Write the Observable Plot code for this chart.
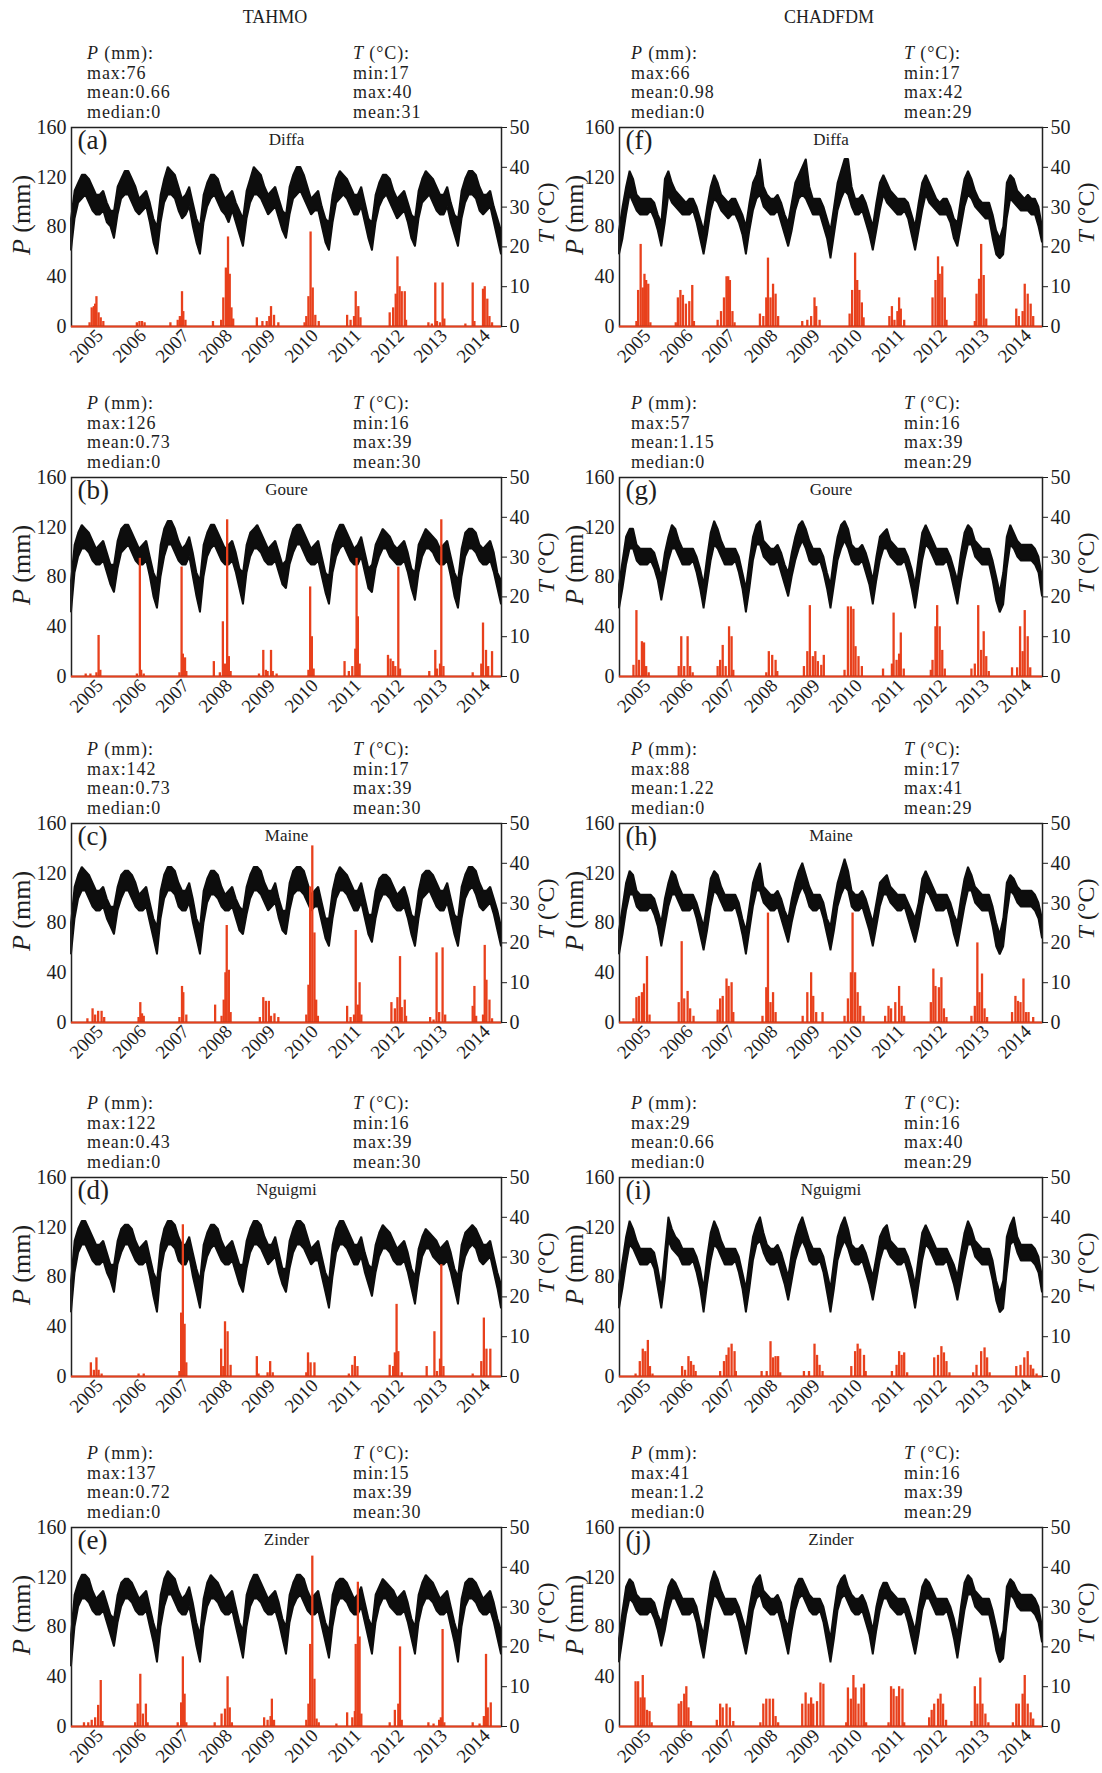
<!DOCTYPE html>
<html><head><meta charset="utf-8">
<script src="https://cdn.jsdelivr.net/npm/d3@7"></script>
<script src="https://cdn.jsdelivr.net/npm/@observablehq/plot@0.6"></script>
<style>
body{margin:0;background:#fff;font-family:"Liberation Serif","DejaVu Serif",serif;color:#1e1e1e;}
#root{position:relative;width:1102px;height:1773px;overflow:hidden;}
.abs{position:absolute;white-space:nowrap;}
.stats{font-size:18px;line-height:19.6px;letter-spacing:0.9px;}
.ttl{font-size:18px;transform:translateX(-50%);}
.ylab{font-size:26px;transform:translate(-50%,-50%) rotate(-90deg);}
.ylab.t{font-size:24px;}
</style></head><body><div id="root"></div>
<script>
// ---------------- data ----------------
const years = [2005,2006,2007,2008,2009,2010,2011,2012,2013,2014];
const stations = ["Diffa","Goure","Maine","Nguigmi","Zinder"];
const letters = ["a","b","c","d","e","f","g","h","i","j"];
const columns = ["TAHMO","CHADFDM"];
const pMax = [76,126,142,122,137,66,57,88,29,41];
const pMean = ["0.66","0.73","0.73","0.43","0.72","0.98","1.15","1.22","0.66","1.2"];
const pMedian = [0,0,0,0,0,0,0,0,0,0];
const tMin = [17,16,17,16,15,17,16,17,16,16];
const tMaxS = [40,39,39,39,39,42,39,41,40,39];
const tMeanS = [31,30,30,30,30,29,29,29,29,29];

// monthly envelope of daily temperature (°C), first of each month 2005-01 .. 2014-12, plus 2014-12-31
const tLoA = [19,27,31,32,33,31,29,28,28,29,26,25, 22,28,32,33,33,31,29,28,29,30,26,21, 18,26,31,33,33,32,29,27,28,30,25,21, 18,26,30,32,33,31,29,28,26,29,26,23, 20,27,31,33,33,32,30,28,29,30,27,24, 22,28,32,33,34,32,30,28,29,29,25,21, 19,26,31,32,33,32,30,28,28,30,26,22, 19,26,30,32,33,31,29,27,28,29,26,22, 20,27,31,32,33,31,29,28,28,30,26,23, 20,27,31,33,33,32,29,28,29,30,26,22, 18];
const tHiA = [27,34,36,38,38,37,35,33,33,34,31,29, 29,35,37,39,39,37,35,32,33,34,31,27, 25,33,37,40,39,38,35,32,33,35,31,27, 25,33,36,38,38,37,34,32,33,34,31,29, 27,34,37,40,39,38,35,33,34,35,32,29, 28,35,38,40,40,38,35,32,33,34,30,27, 26,33,37,39,38,37,35,33,33,35,31,27, 26,33,36,38,38,37,34,32,33,34,31,28, 27,34,37,39,38,37,35,33,33,35,31,28, 27,34,37,39,39,38,35,33,33,34,30,27, 24];

const tLoB = [16,26,30,32,32,31,29,28,28,29,26,23, 21,27,31,32,33,31,29,28,28,29,25,20, 17,25,30,33,33,31,29,28,28,30,25,20, 16,25,30,32,33,31,29,28,28,29,26,22, 18,26,30,32,32,31,29,28,28,29,26,23, 22,28,31,33,33,31,29,28,28,29,25,21, 18,26,30,32,33,31,29,28,28,30,26,22, 21,27,30,32,32,30,29,28,28,29,26,22, 19,26,30,32,32,31,29,28,28,29,25,20, 17,25,30,32,32,31,29,28,28,29,26,22, 18];
const tHiB = [24,33,36,38,37,36,34,32,33,34,31,28, 28,34,37,38,38,36,34,32,33,34,30,26, 24,33,37,39,39,37,34,32,33,35,31,26, 24,33,36,38,38,36,34,32,33,34,31,27, 26,33,36,37,38,36,34,32,33,34,31,28, 29,34,37,38,38,36,34,32,33,34,30,26, 25,33,36,38,38,36,34,32,33,35,31,27, 28,33,35,37,36,35,33,32,33,34,31,27, 26,33,35,37,36,35,34,32,33,34,30,26, 24,32,36,37,37,36,33,32,33,34,31,26, 24];

const tLoC = [17,26,31,33,33,31,29,28,28,29,26,24, 22,28,31,33,33,31,29,28,28,29,25,21, 17,26,31,33,33,32,29,28,28,30,25,21, 17,25,30,32,32,31,29,28,28,29,26,23, 22,27,31,33,33,32,30,28,29,30,26,23, 22,28,32,33,33,32,30,28,29,29,25,21, 19,26,31,33,33,32,30,28,28,30,26,22, 20,26,30,32,32,31,29,28,28,29,26,22, 19,26,31,32,33,31,29,28,28,30,26,22, 19,26,31,33,34,32,29,28,29,30,27,23, 19];
const tHiC = [25,34,37,39,38,37,35,33,33,34,31,29, 29,34,37,38,38,37,35,32,33,34,30,26, 24,33,37,39,39,38,35,33,33,35,31,26, 24,33,36,38,38,37,34,32,33,34,31,29, 28,34,37,39,39,38,35,33,33,35,31,28, 28,35,38,39,39,38,35,32,33,34,30,26, 26,33,37,39,38,37,35,33,33,35,31,27, 27,33,36,37,37,36,34,32,33,34,31,27, 26,33,37,38,38,37,35,33,33,35,31,27, 26,34,37,39,39,38,35,33,33,34,31,28, 24];

const tLoD = [16,26,31,33,33,31,29,28,28,29,26,24, 21,28,31,33,33,31,29,28,28,29,25,20, 16,26,31,33,33,32,29,28,28,30,25,21, 17,26,30,32,33,31,29,28,28,29,26,23, 21,27,31,33,33,32,30,28,29,30,26,23, 21,27,31,33,33,32,30,28,29,29,25,21, 17,25,31,33,33,32,30,28,28,30,26,23, 20,26,30,32,32,31,29,28,28,29,26,22, 18,25,30,32,32,30,29,28,28,29,26,22, 18,26,30,32,33,32,29,28,29,30,26,22, 17];
const tHiD = [24,34,37,39,39,37,35,33,33,34,31,28, 28,34,37,38,38,37,34,32,33,34,30,26, 24,33,37,39,39,38,35,33,33,35,31,27, 24,33,36,38,38,37,34,32,33,34,31,28, 28,34,37,39,39,38,35,33,33,35,31,27, 27,34,37,39,39,38,35,32,33,34,30,26, 24,33,37,39,39,37,35,33,33,35,31,28, 27,33,36,38,37,36,34,32,33,34,31,27, 25,32,35,37,36,35,34,32,33,34,31,27, 25,33,36,37,38,37,35,33,33,34,30,26, 23];

const tLoE = [15,25,30,32,32,31,29,28,28,29,26,23, 20,26,30,32,32,31,29,28,28,29,25,21, 16,25,30,33,33,31,29,28,28,30,25,20, 16,25,30,32,32,31,29,28,28,29,25,21, 17,25,30,32,32,31,29,28,28,29,26,22, 18,26,30,32,33,31,29,28,28,29,25,21, 17,25,30,32,32,31,29,28,28,30,26,22, 18,26,30,32,32,30,29,28,28,29,26,22, 18,26,30,32,32,31,29,28,28,29,25,21, 16,25,30,32,32,31,29,28,28,29,26,22, 18];
const tHiE = [23,33,36,38,38,37,34,32,33,34,31,28, 27,33,36,37,37,36,34,32,33,34,30,26, 23,33,37,39,38,37,34,32,33,35,31,26, 23,32,36,38,37,36,34,32,33,34,30,26, 24,33,36,38,38,36,34,32,33,34,31,27, 25,33,36,38,38,37,34,32,33,34,30,26, 24,33,36,37,37,36,34,32,33,35,31,27, 25,33,35,37,36,35,34,32,33,34,31,27, 25,33,36,38,37,36,34,32,33,34,30,26, 23,32,36,37,37,36,34,32,33,34,31,27, 24];

const tLoF = [18,22,28,33,31,29,28,28,28,29,27,24, 20,26,33,31,30,29,28,28,28,29,26,22, 18,23,29,32,31,29,28,27,28,28,26,23, 18,24,29,32,33,30,29,28,28,29,26,23, 20,24,29,32,33,32,30,28,28,28,25,22, 17,23,29,32,34,33,30,28,28,29,26,23, 19,24,29,33,31,30,29,28,28,29,27,23, 19,24,29,33,31,30,29,28,28,28,26,22, 20,25,30,33,32,30,29,28,27,27,22,18, 17,18,27,32,31,30,29,29,29,28,28,25, 21];
const tHiF = [24,30,35,39,37,33,32,32,32,32,31,28, 26,37,39,36,34,33,32,31,32,32,30,27, 24,30,35,38,36,33,32,31,32,32,30,28, 25,31,36,38,42,35,33,32,32,33,31,28, 26,31,36,38,40,42,35,32,32,32,30,27, 24,30,36,39,42,42,35,32,32,33,31,28, 25,31,36,38,36,34,33,32,32,32,31,28, 25,31,36,38,36,34,32,31,32,32,30,27, 26,32,37,39,37,34,32,31,31,31,28,24, 22,25,36,38,37,34,33,32,33,32,32,30, 25];

const tLoG = [17,22,28,32,32,29,28,28,28,29,27,24, 19,24,29,32,32,30,28,28,28,29,26,22, 17,23,29,33,32,30,28,28,28,29,26,22, 16,22,29,33,33,30,29,28,28,29,26,23, 20,25,29,32,34,32,29,28,28,29,26,22, 17,23,29,32,34,32,29,28,28,29,26,23, 18,24,29,32,32,30,29,28,28,29,26,22, 17,23,29,33,32,30,28,28,28,29,26,22, 18,24,29,33,33,30,29,28,28,28,24,19, 16,18,27,33,32,30,29,29,29,29,28,26, 20];
const tHiG = [23,29,35,37,37,33,32,32,32,32,31,28, 25,31,35,38,37,34,32,32,32,32,30,27, 23,30,36,39,37,34,32,32,32,32,30,26, 22,29,35,38,39,34,33,32,32,33,31,28, 26,31,35,38,39,37,34,32,32,32,30,26, 23,30,35,38,39,37,33,32,32,33,31,28, 24,30,35,36,37,34,33,32,32,32,30,27, 23,30,36,38,36,34,32,32,32,32,30,27, 24,31,36,38,37,34,33,32,32,32,29,25, 21,26,35,38,36,34,33,33,33,33,32,30, 25];

const tLoH = [17,22,28,32,32,29,28,28,28,29,27,24, 19,24,29,32,32,30,28,28,28,29,26,22, 18,23,29,33,32,30,28,28,28,29,26,22, 17,23,29,33,33,30,29,28,28,29,26,23, 20,25,29,32,34,32,29,28,28,29,26,22, 18,23,29,32,34,33,29,28,28,29,26,23, 19,24,29,32,32,30,29,28,28,29,26,23, 20,24,29,33,32,30,28,28,28,29,26,22, 19,24,29,33,33,30,29,28,28,28,24,19, 17,19,27,33,32,30,29,29,29,29,28,26, 21];
const tHiH = [23,29,35,38,37,33,32,32,32,32,31,28, 25,31,35,38,37,34,32,32,32,32,30,27, 24,30,36,38,37,34,32,32,32,32,30,26, 23,29,35,38,40,34,33,32,32,33,31,28, 26,31,35,38,40,37,34,32,32,32,30,26, 24,30,35,38,41,38,33,32,32,33,31,28, 25,30,35,36,37,34,33,32,32,32,30,28, 26,30,36,38,36,34,32,32,32,32,30,27, 25,31,36,39,37,34,33,32,32,32,29,25, 22,26,35,37,36,34,33,33,33,33,32,30, 26];

const tLoI = [17,22,28,33,32,30,28,28,28,29,27,22, 17,24,34,32,31,30,28,28,28,29,26,22, 16,23,29,33,32,30,28,28,28,29,26,22, 16,22,29,33,34,31,29,28,28,29,26,23, 19,24,29,32,34,32,29,28,28,29,26,21, 16,22,29,32,34,32,29,28,28,29,26,23, 19,24,29,32,32,30,29,28,28,29,26,22, 17,23,29,33,32,30,28,28,28,29,26,23, 19,24,29,33,33,30,29,28,28,28,24,19, 16,17,26,33,34,31,29,29,29,29,28,26, 21];
const tHiI = [23,29,35,39,37,34,32,32,32,32,31,27, 22,31,40,37,35,34,32,32,32,32,30,27, 22,30,36,39,37,34,32,32,32,32,30,26, 22,29,35,38,40,36,33,32,32,33,31,28, 25,31,35,38,40,37,34,32,32,32,30,26, 22,29,35,38,40,37,33,32,32,33,31,28, 25,30,35,37,38,34,33,32,32,32,30,27, 23,30,36,38,36,34,32,32,32,32,30,28, 25,31,36,39,37,34,33,32,32,32,29,24, 21,24,35,38,40,35,33,33,33,33,32,30, 25];

const tLoJ = [16,22,28,32,31,29,28,28,28,29,27,24, 20,24,29,32,32,30,28,28,28,29,26,21, 17,23,29,33,32,30,28,28,28,29,26,22, 18,23,29,32,33,30,29,28,28,29,26,22, 18,24,29,32,33,31,29,28,28,29,26,21, 16,22,29,32,33,31,29,28,28,29,26,23, 18,24,29,32,32,30,29,28,28,29,26,22, 18,23,29,32,32,30,28,28,28,29,26,22, 17,23,29,33,33,30,29,28,28,28,24,19, 16,17,26,33,32,30,29,29,29,29,28,26, 21];
const tHiJ = [22,29,35,37,36,33,32,32,32,32,31,28, 26,31,35,37,36,34,32,32,32,32,30,26, 23,30,36,39,37,34,32,32,32,32,30,27, 24,30,35,37,38,34,33,32,32,33,31,27, 25,31,35,37,37,35,33,32,32,32,30,26, 22,29,35,37,38,35,33,32,32,33,31,28, 24,30,34,36,36,34,33,32,32,32,30,27, 24,30,35,37,36,34,32,32,32,32,30,27, 23,30,36,38,37,34,33,32,32,32,29,25, 21,24,35,37,36,34,33,33,33,33,32,30, 25];

// daily precipitation events [decimal year, mm]
const rainA = [[2005.42,3],[2005.47,15],[2005.52,16],[2005.55,18],[2005.58,24],[2005.63,11],[2005.68,7],[2005.74,4],
[2006.52,3],[2006.58,4],[2006.64,4],[2006.70,3],
[2007.30,3],[2007.47,5],[2007.52,8],[2007.57,28],[2007.60,12],[2007.65,5],
[2008.29,4],[2008.48,5],[2008.53,23],[2008.59,47],[2008.64,72],[2008.68,42],[2008.72,15],[2008.76,6],
[2009.31,7],[2009.44,4],[2009.54,4],[2009.60,8],[2009.64,16],[2009.71,9],[2009.81,3],
[2010.42,3],[2010.46,8],[2010.51,24],[2010.56,76],[2010.61,31],[2010.67,9],[2010.75,4],
[2011.41,9],[2011.49,5],[2011.57,8],[2011.61,28],[2011.67,16],[2011.72,7],
[2012.40,11],[2012.48,15],[2012.54,26],[2012.58,56],[2012.63,32],[2012.68,28],[2012.75,28],[2012.78,5],
[2013.30,3],[2013.38,2],[2013.46,35],[2013.50,4],[2013.57,3],[2013.63,35],[2013.67,6],
[2014.16,2],[2014.33,35],[2014.37,4],[2014.57,30],[2014.61,32],[2014.67,22],[2014.72,8],[2014.78,3]];
const rainB = [[2005.33,2],[2005.44,2],[2005.58,3],[2005.63,33],[2005.67,5],
[2006.52,2],[2006.59,95],[2006.62,5],[2006.68,2],
[2007.51,3],[2007.56,88],[2007.59,18],[2007.64,15],[2007.67,4],
[2008.31,12],[2008.45,3],[2008.52,44],[2008.57,10],[2008.62,126],[2008.66,16],[2008.70,4],
[2009.36,2],[2009.46,21],[2009.52,5],[2009.56,4],[2009.64,21],[2009.68,4],[2009.77,2],
[2010.51,5],[2010.55,72],[2010.59,32],[2010.63,6],
[2011.35,12],[2011.45,4],[2011.53,8],[2011.60,22],[2011.63,95],[2011.66,48],[2011.70,10],
[2012.36,17],[2012.42,14],[2012.48,12],[2012.53,8],[2012.60,88],[2012.64,6],
[2013.32,4],[2013.46,21],[2013.50,6],[2013.57,10],[2013.60,126],[2013.65,8],
[2014.33,3],[2014.53,10],[2014.57,43],[2014.64,21],[2014.69,8],[2014.78,20]];
const rainC = [[2005.37,3],[2005.49,11],[2005.55,6],[2005.62,9],[2005.70,9],[2005.76,4],
[2006.56,4],[2006.60,16],[2006.64,7],[2006.68,5],
[2007.51,4],[2007.57,29],[2007.60,24],[2007.67,6],
[2008.34,14],[2008.49,5],[2008.54,18],[2008.58,40],[2008.61,78],[2008.66,42],[2008.70,8],
[2009.38,4],[2009.46,20],[2009.52,17],[2009.59,17],[2009.64,5],[2009.72,7],[2009.81,4],
[2010.46,6],[2010.51,30],[2010.55,109],[2010.60,142],[2010.65,72],[2010.69,18],[2010.73,5],
[2011.41,13],[2011.49,4],[2011.57,6],[2011.61,74],[2011.66,14],[2011.70,32],[2011.74,6],
[2012.44,16],[2012.52,11],[2012.58,20],[2012.64,53],[2012.68,12],[2012.75,18],[2012.78,5],
[2013.34,4],[2013.42,2],[2013.49,56],[2013.55,8],[2013.63,60],[2013.69,6],
[2014.33,13],[2014.37,29],[2014.41,5],[2014.57,6],[2014.61,62],[2014.65,34],[2014.72,18],[2014.78,3]];
const rainD = [[2005.45,11],[2005.52,5],[2005.58,15],[2005.63,5],[2005.70,2],
[2006.56,2],[2006.68,2],
[2007.51,4],[2007.55,51],[2007.59,122],[2007.63,42],[2007.67,11],
[2008.48,22],[2008.53,8],[2008.57,44],[2008.63,36],[2008.70,9],
[2009.31,16],[2009.35,2],[2009.56,3],[2009.62,12],[2009.68,3],
[2010.46,3],[2010.50,19],[2010.56,11],[2010.65,11],
[2011.45,2],[2011.53,9],[2011.59,16],[2011.65,8],
[2012.40,9],[2012.48,8],[2012.52,19],[2012.56,58],[2012.60,20],[2012.68,3],
[2013.26,8],[2013.44,36],[2013.50,4],[2013.57,14],[2013.60,90],[2013.65,8],
[2014.33,2],[2014.53,12],[2014.59,47],[2014.65,22],[2014.74,22]];
const rainE = [[2005.29,3],[2005.39,3],[2005.47,5],[2005.55,7],[2005.62,17],[2005.68,37],[2005.72,4],
[2006.48,3],[2006.54,18],[2006.60,42],[2006.66,10],[2006.73,18],[2006.77,3],
[2007.47,3],[2007.55,19],[2007.59,56],[2007.63,26],[2007.67,3],
[2008.33,3],[2008.49,10],[2008.57,14],[2008.63,40],[2008.68,15],[2008.73,3],
[2009.48,7],[2009.56,5],[2009.63,8],[2009.66,22],[2009.71,5],
[2010.46,5],[2010.51,18],[2010.55,66],[2010.60,137],[2010.65,38],[2010.70,6],[2010.75,3],
[2011.16,2],[2011.41,11],[2011.53,7],[2011.59,12],[2011.61,66],[2011.66,116],[2011.70,72],[2011.74,10],
[2012.40,3],[2012.52,13],[2012.60,18],[2012.64,64],[2012.68,5],
[2013.30,3],[2013.42,2],[2013.55,5],[2013.59,7],[2013.63,78],[2013.67,3],
[2014.33,3],[2014.49,2],[2014.59,8],[2014.64,58],[2014.68,15],[2014.75,19]];
const rainF = [[2005.40,4],[2005.44,29],[2005.50,66],[2005.55,31],[2005.59,42],[2005.63,37],[2005.68,34],[2005.73,3],
[2006.33,3],[2006.38,23],[2006.44,29],[2006.50,25],[2006.57,18],[2006.65,20],[2006.72,33],[2006.76,4],
[2007.32,5],[2007.40,12],[2007.47,23],[2007.53,40],[2007.57,40],[2007.61,37],[2007.67,12],[2007.72,3],
[2008.32,10],[2008.40,8],[2008.47,23],[2008.51,55],[2008.57,23],[2008.63,34],[2008.69,26],[2008.75,8],
[2009.32,4],[2009.44,5],[2009.53,8],[2009.61,23],[2009.65,16],[2009.73,5],
[2010.44,10],[2010.50,29],[2010.57,59],[2010.62,37],[2010.67,29],[2010.73,19],[2010.77,7],
[2011.38,8],[2011.44,16],[2011.50,5],[2011.57,12],[2011.61,23],[2011.65,14],[2011.73,5],
[2012.40,23],[2012.47,37],[2012.53,56],[2012.57,42],[2012.63,48],[2012.69,23],[2012.73,5],
[2013.40,4],[2013.44,26],[2013.50,38],[2013.55,66],[2013.61,41],[2013.67,6],
[2014.38,14],[2014.44,8],[2014.53,12],[2014.58,34],[2014.65,26],[2014.72,18],[2014.78,8]];
const rainG = [[2005.33,9],[2005.40,53],[2005.46,13],[2005.53,28],[2005.58,27],[2005.63,8],[2005.69,3],
[2006.40,8],[2006.46,32],[2006.53,8],[2006.61,32],[2006.67,8],[2006.73,3],
[2007.32,8],[2007.38,13],[2007.44,25],[2007.51,8],[2007.59,40],[2007.65,32],[2007.69,5],
[2008.47,3],[2008.53,20],[2008.61,17],[2008.69,13],[2008.73,4],
[2009.36,8],[2009.44,20],[2009.50,57],[2009.57,16],[2009.63,20],[2009.69,12],[2009.77,9],[2009.83,17],
[2010.32,5],[2010.40,56],[2010.47,56],[2010.53,54],[2010.58,24],[2010.65,16],[2010.73,8],
[2011.23,6],[2011.44,10],[2011.48,51],[2011.55,13],[2011.61,18],[2011.65,35],[2011.72,6],
[2012.36,5],[2012.40,13],[2012.47,40],[2012.51,57],[2012.57,40],[2012.63,21],[2012.69,6],
[2013.32,6],[2013.40,10],[2013.48,57],[2013.55,21],[2013.61,36],[2013.67,16],[2013.73,4],
[2014.28,7],[2014.40,7],[2014.47,40],[2014.53,20],[2014.58,53],[2014.65,32],[2014.71,7]];
const rainH = [[2005.33,3],[2005.40,20],[2005.46,21],[2005.53,24],[2005.58,31],[2005.65,53],[2005.71,6],
[2006.40,16],[2006.47,65],[2006.53,19],[2006.61,25],[2006.67,11],[2006.75,5],
[2007.32,10],[2007.38,19],[2007.44,21],[2007.53,35],[2007.58,29],[2007.65,32],[2007.69,8],
[2008.38,5],[2008.47,28],[2008.51,88],[2008.57,16],[2008.63,24],[2008.69,8],
[2009.33,5],[2009.44,24],[2009.53,40],[2009.58,21],[2009.65,8],[2009.80,8],
[2010.32,5],[2010.40,19],[2010.47,40],[2010.51,88],[2010.57,40],[2010.63,24],[2010.69,13],[2010.77,5],
[2011.28,5],[2011.36,13],[2011.42,11],[2011.52,16],[2011.61,29],[2011.67,13],[2011.73,5],
[2012.36,16],[2012.42,43],[2012.47,29],[2012.55,28],[2012.61,36],[2012.67,11],[2012.73,4],
[2013.32,5],[2013.40,13],[2013.46,64],[2013.51,24],[2013.57,39],[2013.63,11],[2013.69,4],
[2014.28,8],[2014.36,21],[2014.42,17],[2014.48,16],[2014.55,35],[2014.61,8],[2014.67,8],[2014.78,4]];
const rainI = [[2005.38,2],[2005.48,12],[2005.55,22],[2005.61,20],[2005.67,29],[2005.72,8],[2005.78,2],
[2006.48,8],[2006.55,5],[2006.63,16],[2006.69,12],[2006.75,9],[2006.80,4],
[2007.38,4],[2007.47,12],[2007.53,17],[2007.58,23],[2007.65,26],[2007.72,20],[2007.75,4],
[2008.36,4],[2008.48,4],[2008.57,28],[2008.63,15],[2008.69,16],[2008.75,16],[2008.80,3],
[2009.36,4],[2009.48,4],[2009.61,26],[2009.67,17],[2009.73,9],[2009.80,4],
[2010.48,8],[2010.57,20],[2010.63,26],[2010.69,22],[2010.78,17],[2010.82,4],
[2011.44,4],[2011.55,9],[2011.61,20],[2011.67,17],[2011.73,19],[2011.80,3],
[2012.44,15],[2012.53,17],[2012.61,24],[2012.67,19],[2012.73,12],[2012.80,3],
[2013.36,3],[2013.44,9],[2013.55,20],[2013.63,23],[2013.69,15],[2013.75,3],
[2014.38,8],[2014.48,9],[2014.57,15],[2014.65,20],[2014.72,9],[2014.78,6],[2014.86,2]];
const rainJ = [[2005.38,36],[2005.44,36],[2005.50,23],[2005.55,41],[2005.59,23],[2005.65,13],[2005.71,12],[2005.76,3],
[2006.40,18],[2006.46,20],[2006.53,26],[2006.58,32],[2006.63,15],[2006.69,4],
[2007.30,5],[2007.38,18],[2007.44,15],[2007.53,18],[2007.61,15],[2007.69,4],
[2008.33,3],[2008.40,18],[2008.47,22],[2008.55,22],[2008.63,22],[2008.69,8],[2008.75,3],
[2009.32,18],[2009.40,27],[2009.47,18],[2009.53,23],[2009.58,18],[2009.67,20],[2009.75,35],[2009.82,34],
[2010.36,3],[2010.40,31],[2010.47,22],[2010.53,41],[2010.58,31],[2010.65,18],[2010.72,31],[2010.78,34],[2010.83,3],
[2011.36,3],[2011.42,32],[2011.48,30],[2011.55,24],[2011.61,32],[2011.69,30],[2011.73,3],
[2012.32,7],[2012.38,13],[2012.44,18],[2012.53,22],[2012.59,26],[2012.65,18],[2012.72,5],
[2013.32,4],[2013.40,32],[2013.46,18],[2013.53,39],[2013.58,18],[2013.65,10],[2013.72,3],
[2014.30,3],[2014.38,18],[2014.44,18],[2014.53,26],[2014.58,41],[2014.65,18],[2014.72,11],[2014.78,6]];

const tHi = [tHiA,tHiB,tHiC,tHiD,tHiE,tHiF,tHiG,tHiH,tHiI,tHiJ];
const tLo = [tLoA,tLoB,tLoC,tLoD,tLoE,tLoF,tLoG,tLoH,tLoI,tLoJ];
const rains = [rainA,rainB,rainC,rainD,rainE,rainF,rainG,rainH,rainI,rainJ];

// ---------------- layout ----------------
const root = document.getElementById("root");
const RED = "#e8401c";
const K = 3.2; // 50 °C on the right axis = 160 mm on the left axis
const rowTop = [127, 477, 823, 1177, 1527];
const FH = 199, MT = 12, MB = 62;
const FONT = "Liberation Serif, DejaVu Serif, serif";
const colCfg = [
  {left: 0, ml: 71, mr: 50, pX: 87, tX: 353, pLab: 22, tLab: 546, title: 275},
  {left: 551, ml: 68, mr: 60, pX: 631, tX: 904, pLab: 575, tLab: 1086, title: 829}
];

function add(html, cls, x, y) {
  const d = document.createElement("div");
  d.className = "abs " + cls;
  d.style.left = x + "px"; d.style.top = y + "px";
  d.innerHTML = html;
  root.appendChild(d);
  return d;
}

columns.forEach((c, ci) => add(c, "ttl", colCfg[ci].title, 7));

for (let i = 0; i < 10; i++) {
  const ci = Math.floor(i / 5), ri = i % 5, cc = colCfg[ci];
  const top = rowTop[ri];
  const tData = tHi[i].map((h, k) => ({x: 2005 + k / 12, hi: h, lo: tLo[i][k]}));
  const svg = Plot.plot({
    width: 551, height: MT + FH + MB,
    marginLeft: cc.ml, marginRight: cc.mr, marginTop: MT, marginBottom: MB,
    style: {fontFamily: FONT, color: "#1e1e1e", background: "transparent", overflow: "visible"},
    x: {domain: [2005, 2015]},
    y: {domain: [0, 160]},
    marks: [
      Plot.areaY(tData, {x: "x", y1: d => d.lo * K, y2: d => d.hi * K, fill: "#0d0d0d", stroke: "#0d0d0d", strokeWidth: 1.8, strokeLinejoin: "miter"}),
      Plot.ruleX(rains[i], {x: d => d[0], y1: 0, y2: d => d[1], stroke: RED, strokeWidth: 2.3}),
      Plot.frame({stroke: "#222", strokeWidth: 1.5}),
      Plot.ruleY([0], {stroke: RED, strokeWidth: 1.8}),
      Plot.axisY({ticks: [0, 40, 80, 120, 160], tickSize: 0, tickPadding: 5, fontSize: 20, label: null}),
      Plot.axisY({anchor: "right", ticks: [0, 32, 64, 96, 128, 160], tickFormat: d => String(Math.round(d / K)), tickSize: 5, tickPadding: 3, fontSize: 20, label: null}),
      Plot.axisX({ticks: years.map(y => y + 0.66), tickFormat: d => String(Math.floor(d)), tickRotate: -45, tickSize: 0, tickPadding: 6, fontSize: 19, label: null}),
      Plot.text([letters[i]], {text: d => `(${d})`, frameAnchor: "top-left", dx: 6, dy: 2, fontSize: 27, textAnchor: "start", lineAnchor: "top"}),
      Plot.text([stations[ri]], {frameAnchor: "top", dy: 5, fontSize: 17, lineAnchor: "top"})
    ]
  });
  const wrap = document.createElement("div");
  wrap.className = "abs";
  wrap.style.left = cc.left + "px";
  wrap.style.top = (top - MT) + "px";
  wrap.appendChild(svg);
  root.appendChild(wrap);

  add(`<i>P</i> (mm):<br>max:${pMax[i]}<br>mean:${pMean[i]}<br>median:${pMedian[i]}`, "stats", cc.pX, top - 83);
  add(`<i>T</i> (°C):<br>min:${tMin[i]}<br>max:${tMaxS[i]}<br>mean:${tMeanS[i]}`, "stats", cc.tX, top - 83);
  add(`<i>P</i> (mm)`, "ylab", cc.pLab, top + 88);
  add(`<i>T</i> (°C)`, "ylab t", cc.tLab, top + 86);
}
</script></body></html>
